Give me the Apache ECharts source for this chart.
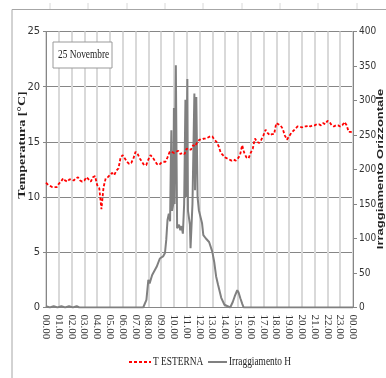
<!DOCTYPE html>
<html>
<head>
<meta charset="utf-8">
<script src="https://cdn.jsdelivr.net/npm/echarts@6/dist/echarts.min.js"></script>
<style>
html, body { margin: 0; padding: 0; background: #fff; }
#chart { width: 386px; height: 378px; }
</style>
</head>
<body>
<div id="chart"></div>
<script>
// hour tick labels on the x axis (0..24)
var hourLabels = ['00.00', '01.00', '02.00', '03.00', '04.00', '05.00', '06.00', '07.00',
	'08.00', '09.00', '10.00', '11.00', '12.00', '13.00', '14.00', '15.00', '16.00',
	'17.00', '18.00', '19.00', '20.00', '21.00', '22.00', '23.00', '00.00'];

// T ESTERNA [°C], one reading every 10 minutes from 00.00 to 24.00
var tempValues = [
	11.3, 11.1, 11.0, 10.9, 10.9, 10.9,
	11.2, 11.4, 11.7, 11.5, 11.4, 11.6,
	11.6, 11.5, 11.7, 11.8, 11.5, 11.4,
	11.5, 11.8, 11.6, 11.4, 11.8, 11.9,
	11.1, 10.8, 8.9, 10.9, 11.7, 11.8,
	12.0, 12.2, 12.0, 12.4, 12.6, 13.6,
	13.8, 13.5, 13.2, 13.0, 13.1, 13.5,
	14.1, 13.9, 13.5, 13.2, 12.9, 12.9,
	13.4, 13.8, 13.6, 13.3, 13.0, 12.9,
	13.1, 13.2, 13.2, 13.6, 14.1, 14.1,
	14.0, 14.1, 14.2, 13.9, 14.0, 13.9,
	14.4, 14.3, 14.3, 14.7, 14.6, 15.0,
	15.2, 15.2, 15.3, 15.3, 15.4, 15.5,
	15.5, 15.2, 15.0, 14.6, 14.0, 13.8,
	13.6, 13.5, 13.4, 13.3, 13.4, 13.3,
	13.5, 13.8, 14.7, 14.0, 13.6, 13.5,
	14.0, 14.4, 15.3, 15.0, 14.9, 15.2,
	15.6, 16.1, 15.8, 15.6, 15.7, 15.7,
	16.7, 16.6, 16.5, 16.2, 15.6, 15.2,
	15.5, 15.8, 16.0, 16.2, 16.4, 16.4,
	16.3, 16.4, 16.4, 16.5, 16.4, 16.5,
	16.5, 16.6, 16.6, 16.5, 16.7, 16.6,
	16.9, 16.8, 16.5, 16.4, 16.5, 16.5,
	16.4, 16.5, 16.8, 16.5, 15.9, 15.9,
	15.8
];

// Irraggiamento H [W/m2], sampled at irregular times (hours)
var irrHours = [0, 0.3, 0.6, 0.9, 1.2, 1.5, 1.8, 2.1, 2.4, 2.6,
	7.6, 7.85, 8.0, 8.1, 8.3, 8.5, 8.65, 8.9, 9.15, 9.3, 9.4, 9.5, 9.6, 9.7,
	9.75, 9.8, 9.85, 9.95, 10.0, 10.05, 10.15, 10.25, 10.4, 10.5, 10.6, 10.7,
	10.8, 10.9, 10.95, 11.05, 11.1, 11.25, 11.3, 11.45, 11.6, 11.65, 11.75,
	11.85, 11.95, 12.2, 12.3, 12.5, 12.75, 13.0, 13.15, 13.3, 13.45, 13.7,
	13.95, 14.4, 14.6, 14.75, 14.95, 15.05, 15.2, 15.35, 15.45, 24];
var irrValues = [2, 0, 2, 0, 2, 0, 2, 0, 2, 0,
	0, 11, 40, 35, 47, 54, 59, 71, 74, 79, 98, 127, 136, 125,
	200, 257, 140, 150, 289, 150, 351, 115, 120, 112, 118, 107,
	150, 301, 160, 331, 140, 120, 86, 150, 310, 170, 305,
	160, 141, 122, 105, 100, 95, 81, 66, 45, 33, 14,
	4, 0, 8, 16, 25, 22, 13, 5, 0, 0];

var seriesNames = ['T ESTERNA', 'Irraggiamento H'];

var myChart = echarts.init(document.getElementById('chart'));

var tempData = tempValues.map(function (v, i) { return [i / 6, v]; });
var irrData = irrHours.map(function (h, i) { return [h, irrValues[i]]; });

// the source picture is squeezed sideways, so horizontal text is narrowed
var squeeze = 0.72;
var labelFont = 'Liberation Sans Narrow, DejaVu Sans Condensed, Liberation Sans';

var topTicks = [];
[50, 88, 127, 165, 203, 242, 280, 318, 357].forEach(function (x) {
	topTicks.push({
		type: 'line',
		shape: { x1: x, y1: 3, x2: x, y2: 9 },
		style: { stroke: '#d8d8d8', lineWidth: 1 }
	});
});

// hand drawn legend (texts narrowed like the source)
var legendItems = [
	{ type: 'line', shape: { x1: 129, y1: 362, x2: 151, y2: 362 },
		style: { stroke: '#ff0000', lineWidth: 2, lineDash: [3, 2] } },
	{ type: 'text', x: 153, y: 362, scaleX: squeeze,
		style: { text: seriesNames[0], fontFamily: 'Liberation Serif', fontSize: 13,
			fill: '#222', verticalAlign: 'middle' } },
	{ type: 'line', shape: { x1: 208, y1: 362, x2: 227, y2: 362 },
		style: { stroke: '#808080', lineWidth: 2 } },
	{ type: 'text', x: 229, y: 362, scaleX: squeeze,
		style: { text: seriesNames[1], fontFamily: 'Liberation Serif', fontSize: 13,
			fill: '#222', verticalAlign: 'middle' } }
];

var option = {
	animation: false,
	backgroundColor: '#fff',
	grid: {
		left: 46,
		right: 33,
		top: 31.5,
		bottom: 70.5
	},
	xAxis: {
		type: 'value',
		min: 0,
		max: 24,
		interval: 1,
		axisLine: { lineStyle: { color: '#868686' } },
		axisTick: { show: false },
		axisLabel: {
			rotate: -90,
			margin: 7,
			fontFamily: 'Liberation Serif',
			fontSize: 11,
			color: '#333',
			formatter: function (v) { return hourLabels[Math.round(v)]; }
		},
		splitLine: { show: true, lineStyle: { color: '#d9d9d9', width: 2 } }
	},
	yAxis: [{
		type: 'value',
		min: 0,
		max: 25,
		interval: 5,
		axisLine: { show: true, lineStyle: { color: '#868686' } },
		axisTick: { show: true, length: 3, lineStyle: { color: '#868686' } },
		axisLabel: {
			margin: 6,
			fontFamily: labelFont,
			fontSize: 11,
			color: '#333'
		},
		splitLine: { show: true, lineStyle: { color: '#868686', width: 1 } }
	}, {
		type: 'value',
		min: 0,
		max: 400,
		interval: 50,
		position: 'right',
		axisLine: { show: true, lineStyle: { color: '#868686' } },
		axisTick: { show: true, length: 4, lineStyle: { color: '#868686' } },
		axisLabel: {
			margin: 6,
			fontFamily: labelFont,
			fontSize: 10,
			color: '#333'
		},
		splitLine: { show: false }
	}],
	graphic: [{
		type: 'line',
		shape: { x1: 12, y1: 9.5, x2: 386, y2: 9.5 },
		style: { stroke: '#a6a6a6', lineWidth: 1 }
	}, {
		type: 'line',
		shape: { x1: 12, y1: 9.5, x2: 12, y2: 378 },
		style: { stroke: '#a6a6a6', lineWidth: 1 }
	}, {
		type: 'rect',
		shape: { x: 53, y: 42, width: 59, height: 26 },
		style: { fill: '#fff', stroke: '#9a9a9a', lineWidth: 1 },
		z: 10
	}, {
		type: 'text',
		x: 58,
		y: 55,
		scaleX: squeeze,
		z: 11,
		style: {
			text: '25 Novembre',
			fontFamily: 'Liberation Serif',
			fontSize: 13,
			fill: '#222',
			verticalAlign: 'middle'
		}
	}, {
		type: 'text',
		x: 22,
		y: 145,
		rotation: Math.PI / 2,
		scaleY: 0.8,
		style: {
			text: 'Temperatura [°C]',
			fontFamily: 'Liberation Serif',
			fontWeight: 'bold',
			fontSize: 14,
			fill: '#222',
			align: 'center',
			verticalAlign: 'middle'
		}
	}, {
		type: 'text',
		x: 380,
		y: 169,
		rotation: Math.PI / 2,
		scaleY: 0.75,
		style: {
			text: 'Irraggiamento Orizzontale',
			fontFamily: 'Liberation Sans',
			fontWeight: 'bold',
			fontSize: 13,
			fill: '#222',
			align: 'center',
			verticalAlign: 'middle'
		}
	}].concat(topTicks, legendItems),
	series: [{
		name: seriesNames[0],
		type: 'line',
		yAxisIndex: 0,
		data: tempData,
		symbol: 'none',
		z: 4,
		itemStyle: { color: '#ff0000' },
		lineStyle: { color: '#ff0000', width: 1.8, type: [3, 2] }
	}, {
		name: seriesNames[1],
		type: 'line',
		yAxisIndex: 1,
		data: irrData,
		symbol: 'none',
		z: 3,
		itemStyle: { color: '#808080' },
		lineStyle: { color: '#808080', width: 2 }
	}]
};
myChart.setOption(option);
</script>
</body>
</html>
